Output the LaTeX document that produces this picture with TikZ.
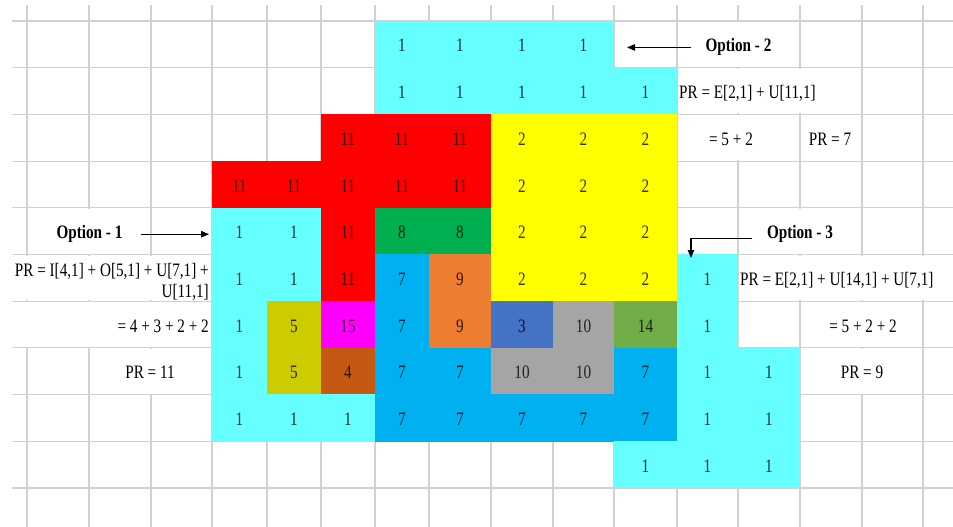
\documentclass[tikz,border=0pt]{standalone}
\usepackage{fontspec}
\setmainfont{Liberation Serif}[FakeStretch=0.8]
\usepackage{xcolor}
\usepackage{tikz}
\usetikzlibrary{arrows.meta}

\definecolor{xcyan}{HTML}{66FFFF}
\definecolor{xred}{HTML}{FF0000}
\definecolor{xyellow}{HTML}{FFFF00}
\definecolor{xgreen}{HTML}{00B050}
\definecolor{xblue}{HTML}{00B0F0}
\definecolor{xorange}{HTML}{ED7D31}
\definecolor{xolive}{HTML}{CCCC00}
\definecolor{xmagenta}{HTML}{FF00FF}
\definecolor{xbrown}{HTML}{C65911}
\definecolor{xnavy}{HTML}{4472C4}
\definecolor{xgray}{HTML}{A5A5A5}
\definecolor{xlime}{HTML}{70AD47}

\begin{document}
\begin{tikzpicture}[x=1pt, y=-1pt,
    gridline/.style={draw=black!18, line width=1.1pt},
    num/.style={anchor=base, inner sep=0pt, font=\fontsize{19}{21}\selectfont,
                text opacity=0.8},
    lbl/.style={inner sep=0pt, font=\fontsize{19}{21}\selectfont},
    opt/.style={inner sep=0pt, font=\fontsize{19}{21}\selectfont\bfseries},
    pointer/.style={-{Triangle[length=8pt, width=6.5pt]}, line width=1.2pt}
]
\def\colx{{27,89,151,212,267,321,375,429,491,553,614,677,738,800,862,923,953}}

\fill[white] (0,0) rectangle (953,527);
\useasboundingbox (0,0) rectangle (953,527);

% ================================================================
%  Sheet grid
% ================================================================
\foreach \x in {27,89,151,212,267,321,375,429,491,553,614,677,738,800,862,923}
    \draw[gridline] (\x,5) -- (\x,527);
\foreach \row in {0,...,10}
    \draw[gridline] (12,21+46.7*\row) -- (953,21+46.7*\row);

% merged / overflow cells hide the inner lines
\foreach \xa/\xb/\row in {27/151/4, 0/212/5, 0/212/6, 89/212/7,
        677/800/0, 677/862/1, 677/800/2, 738/862/4, 738/953/5, 800/923/6, 800/923/7}
    \fill[white] (\xa+1,22+46.7*\row) rectangle (\xb-1,66.7+46.7*\row);

% ================================================================
%  Coloured cells
% ================================================================
\foreach \col/\row/\clr/\val in {
    6/0/xcyan/1, 7/0/xcyan/1, 8/0/xcyan/1, 9/0/xcyan/1,
    6/1/xcyan/1, 7/1/xcyan/1, 8/1/xcyan/1, 9/1/xcyan/1, 10/1/xcyan/1,
    5/2/xred/11, 6/2/xred/11, 7/2/xred/11, 8/2/xyellow/2, 9/2/xyellow/2, 10/2/xyellow/2,
    3/3/xred/11, 4/3/xred/11, 5/3/xred/11, 6/3/xred/11, 7/3/xred/11,
    8/3/xyellow/2, 9/3/xyellow/2, 10/3/xyellow/2,
    3/4/xcyan/1, 4/4/xcyan/1, 5/4/xred/11, 6/4/xgreen/8, 7/4/xgreen/8,
    8/4/xyellow/2, 9/4/xyellow/2, 10/4/xyellow/2,
    3/5/xcyan/1, 4/5/xcyan/1, 5/5/xred/11, 6/5/xblue/7, 7/5/xorange/9,
    8/5/xyellow/2, 9/5/xyellow/2, 10/5/xyellow/2, 11/5/xcyan/1,
    3/6/xcyan/1, 4/6/xolive/5, 5/6/xmagenta/15, 6/6/xblue/7, 7/6/xorange/9,
    8/6/xnavy/3, 9/6/xgray/10, 10/6/xlime/14, 11/6/xcyan/1,
    3/7/xcyan/1, 4/7/xolive/5, 5/7/xbrown/4, 6/7/xblue/7, 7/7/xblue/7,
    8/7/xgray/10, 9/7/xgray/10, 10/7/xblue/7, 11/7/xcyan/1, 12/7/xcyan/1,
    3/8/xcyan/1, 4/8/xcyan/1, 5/8/xcyan/1, 6/8/xblue/7, 7/8/xblue/7,
    8/8/xblue/7, 9/8/xblue/7, 10/8/xblue/7, 11/8/xcyan/1, 12/8/xcyan/1,
    10/9/xcyan/1, 11/9/xcyan/1, 12/9/xcyan/1} {
    \pgfmathsetmacro\xa{\colx[\col]}
    \pgfmathsetmacro\xb{\colx[\col+1]}
    \fill[\clr] (\xa-0.3,20.7+46.7*\row) rectangle (\xb+0.3,68+46.7*\row);
    \node[num] (n\col-\row) at ({(\xa+\xb)/2},52+46.7*\row) {\val};
}

% ================================================================
%  Option 1
% ================================================================
\node[opt, anchor=base] (opt1) at (89.5,238.8) {Option - 1};
\coordinate (opt1tip) at (209,232);
\draw[pointer, shorten <=18pt] (opt1.east) -- (opt1.east -| opt1tip);

\node[lbl, anchor=base east] (pr1a) at (209,276) {PR = I[4,1] + O[5,1] + U[7,1] +};
\node[lbl, anchor=base east] (pr1b) at (209,297) {U[11,1]};
\node[lbl, anchor=base east] (pr1c) at (209,332.2) {= 4 + 3 + 2 + 2};
\node[lbl, anchor=base] (pr1d) at (150,378.9) {PR = 11};

% ================================================================
%  Option 2
% ================================================================
\node[opt, anchor=base] (opt2) at (738.5,52) {Option - 2};
\coordinate (opt2tip) at (627,45);
\draw[pointer, shorten <=14pt] (opt2.west) -- (opt2.west -| opt2tip);

\node[lbl, anchor=base west] (pr2a) at (679,98.7) {PR = E[2,1] + U[11,1]};
\node[lbl, anchor=base] (pr2b) at (731,145.4) {= 5 + 2};
\node[lbl, anchor=base] (pr2c) at (830,145.4) {PR = 7};

% ================================================================
%  Option 3
% ================================================================
\node[opt, anchor=base] (opt3) at (800,238.8) {Option - 3};
\coordinate (opt3tip) at (691,258);
\draw[pointer, shorten <=15pt] (opt3.base west) -| (opt3tip);

\node[lbl, anchor=base west] (pr3a) at (740,285.5) {PR = E[2,1] + U[14,1] + U[7,1]};
\node[lbl, anchor=base] (pr3b) at (863,332.2) {= 5 + 2 + 2};
\node[lbl, anchor=base] (pr3c) at (862,378.9) {PR = 9};
\end{tikzpicture}
\end{document}
